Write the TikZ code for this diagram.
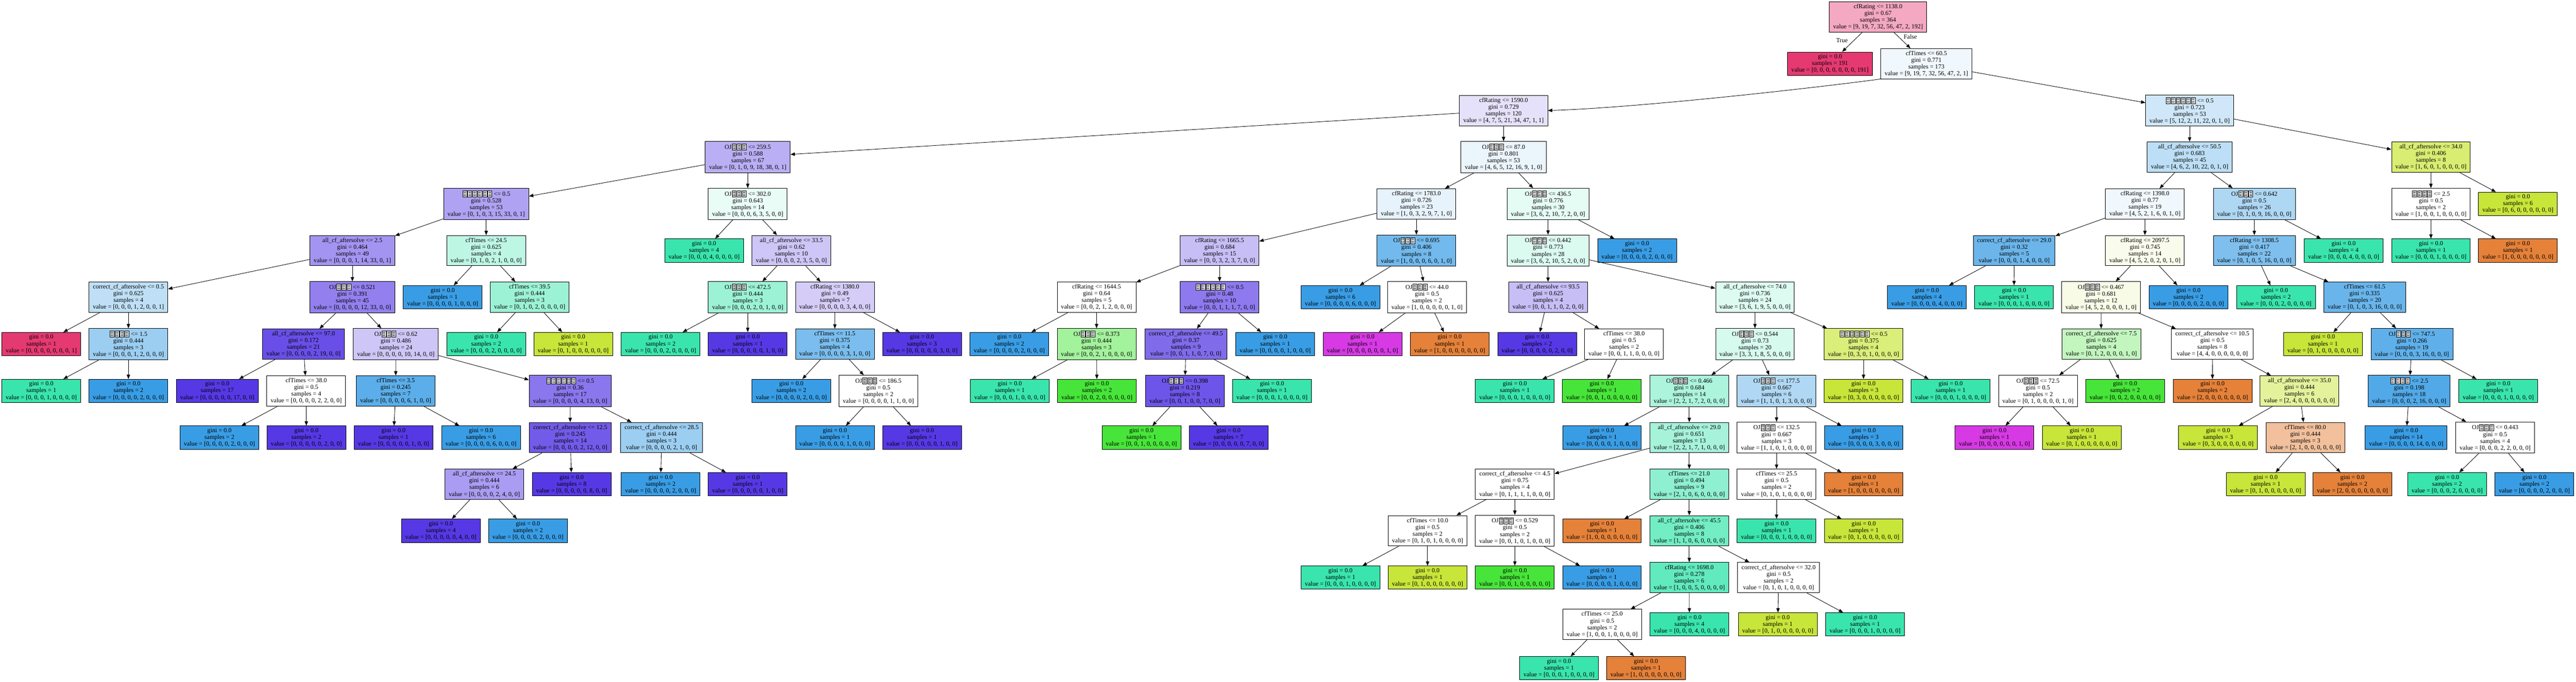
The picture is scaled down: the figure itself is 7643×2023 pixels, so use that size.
\documentclass[tikz,border=0pt]{standalone}
\usepackage{fontspec}
\setmainfont{Liberation Serif}
\usetikzlibrary{arrows.meta}

\definecolor{cls0}{HTML}{E58139}
\definecolor{cls1}{HTML}{C8E539}
\definecolor{cls2}{HTML}{47E539}
\definecolor{cls3}{HTML}{39E5AC}
\definecolor{cls4}{HTML}{399DE5}
\definecolor{cls5}{HTML}{5639E5}
\definecolor{cls6}{HTML}{D739E5}
\definecolor{cls7}{HTML}{E53972}

\newcommand{\tofu}{\kern1bp\tikz[x=1bp,y=1bp,baseline=3bp]{\draw[line width=0.9bp,fill=white] (0,0) rectangle (12,18); \fill[black!55] (2.5,10) rectangle (5.5,16) (6.5,10) rectangle (9.5,16) (2.5,2) rectangle (5.5,8) (6.5,2) rectangle (9.5,8);}\kern1bp}

\begin{document}
\begin{tikzpicture}[x=1bp, y=-1bp,
		tnode/.style={draw=black, line width=1.3bp, rectangle, align=center, inner xsep=11.5bp, inner ysep=7bp, font=\fontsize{18.5bp}{20bp}\selectfont},
		arr/.style={-{Triangle[length=13bp,width=10bp]}, line width=1.3bp},
		lbl/.style={inner sep=0pt, font=\fontsize{18.5bp}{20bp}\selectfont}]
				\path[use as bounding box, fill=white] (0,0) rectangle (7643,2023);
				
				\node[tnode, fill=cls7!44!white] (n0) at (5572,50.5) {cfRating <= 1138.0\\gini = 0.67\\samples = 364\\value = [9, 19, 7, 32, 56, 47, 2, 192]};
				\node[tnode, fill=cls7] (n1) at (5429.5,189) {gini = 0.0\\samples = 191\\value = [0, 0, 0, 0, 0, 0, 0, 191]};
				\node[tnode, fill=cls4!7!white] (n2) at (5715.5,189) {cfTimes <= 60.5\\gini = 0.771\\samples = 173\\value = [9, 19, 7, 32, 56, 47, 2, 1]};
				\node[lbl] (ltrue) at (5465,120) {True};
				\node[lbl] (lfalse) at (5668,109) {False};
				
				\node[tnode, fill=cls5!15!white] (n3) at (4461,328) {cfRating <= 1590.0\\gini = 0.729\\samples = 120\\value = [4, 7, 5, 21, 34, 47, 1, 1]};
				\node[tnode, fill=cls5!41!white] (n4) at (2218.5,466) {OJ\tofu\tofu\tofu{} <= 259.5\\gini = 0.588\\samples = 67\\value = [0, 1, 0, 9, 18, 38, 0, 1]};
				\node[tnode, fill=cls5!47!white] (n5) at (1442.5,605) {\tofu\tofu\tofu\tofu\tofu\tofu{} <= 0.5\\gini = 0.528\\samples = 53\\value = [0, 1, 0, 3, 15, 33, 0, 1]};
				\node[tnode, fill=cls5!54!white] (n6) at (1045.5,743.5) {all\_cf\_aftersolve <= 2.5\\gini = 0.464\\samples = 49\\value = [0, 0, 0, 1, 14, 33, 0, 1]};
				\node[tnode, fill=cls4!33!white] (n7) at (381,882) {correct\_cf\_aftersolve <= 0.5\\gini = 0.625\\samples = 4\\value = [0, 0, 0, 1, 2, 0, 0, 1]};
				\node[tnode, fill=cls7] (n8) at (122.5,1021) {gini = 0.0\\samples = 1\\value = [0, 0, 0, 0, 0, 0, 0, 1]};
				\node[tnode, fill=cls4!50!white] (n9) at (381,1021) {\tofu\tofu\tofu\tofu{} <= 1.5\\gini = 0.444\\samples = 3\\value = [0, 0, 0, 1, 2, 0, 0, 0]};
				\node[tnode, fill=cls3] (n10) at (122.5,1160) {gini = 0.0\\samples = 1\\value = [0, 0, 0, 1, 0, 0, 0, 0]};
				\node[tnode, fill=cls4] (n11) at (381,1160) {gini = 0.0\\samples = 2\\value = [0, 0, 0, 0, 2, 0, 0, 0]};
				\node[tnode, fill=cls5!64!white] (n12) at (1045.5,882) {OJ\tofu\tofu\tofu{} <= 0.521\\gini = 0.391\\samples = 45\\value = [0, 0, 0, 0, 12, 33, 0, 0]};
				\node[tnode, fill=cls5!89!white] (n13) at (900.5,1021) {all\_cf\_aftersolve <= 97.0\\gini = 0.172\\samples = 21\\value = [0, 0, 0, 0, 2, 19, 0, 0]};
				\node[tnode, fill=cls5] (n14) at (644.5,1160) {gini = 0.0\\samples = 17\\value = [0, 0, 0, 0, 0, 17, 0, 0]};
				\node[tnode, fill=white] (n15) at (908.5,1160) {cfTimes <= 38.0\\gini = 0.5\\samples = 4\\value = [0, 0, 0, 0, 2, 2, 0, 0]};
				\node[tnode, fill=cls4] (n16) at (651,1298.5) {gini = 0.0\\samples = 2\\value = [0, 0, 0, 0, 2, 0, 0, 0]};
				\node[tnode, fill=cls5] (n17) at (909,1298.5) {gini = 0.0\\samples = 2\\value = [0, 0, 0, 0, 0, 2, 0, 0]};
				\node[tnode, fill=cls5!29!white] (n18) at (1174.5,1021) {OJ\tofu\tofu\tofu{} <= 0.62\\gini = 0.486\\samples = 24\\value = [0, 0, 0, 0, 10, 14, 0, 0]};
				\node[tnode, fill=cls4!83!white] (n19) at (1174,1160) {cfTimes <= 3.5\\gini = 0.245\\samples = 7\\value = [0, 0, 0, 0, 6, 1, 0, 0]};
				\node[tnode, fill=cls5] (n20) at (1167.5,1298.5) {gini = 0.0\\samples = 1\\value = [0, 0, 0, 0, 0, 1, 0, 0]};
				\node[tnode, fill=cls4] (n21) at (1427,1298.5) {gini = 0.0\\samples = 6\\value = [0, 0, 0, 0, 6, 0, 0, 0]};
				\node[tnode, fill=cls5!69!white] (n22) at (1691.5,1160) {\tofu\tofu\tofu\tofu\tofu\tofu{} <= 0.5\\gini = 0.36\\samples = 17\\value = [0, 0, 0, 0, 4, 13, 0, 0]};
				\node[tnode, fill=cls5!83!white] (n23) at (1692,1298.5) {correct\_cf\_aftersolve <= 12.5\\gini = 0.245\\samples = 14\\value = [0, 0, 0, 0, 2, 12, 0, 0]};
				\node[tnode, fill=cls5!50!white] (n24) at (1437,1437) {all\_cf\_aftersolve <= 24.5\\gini = 0.444\\samples = 6\\value = [0, 0, 0, 0, 2, 4, 0, 0]};
				\node[tnode, fill=cls5] (n25) at (1308,1575) {gini = 0.0\\samples = 4\\value = [0, 0, 0, 0, 0, 4, 0, 0]};
				\node[tnode, fill=cls4] (n26) at (1566.5,1575) {gini = 0.0\\samples = 2\\value = [0, 0, 0, 0, 2, 0, 0, 0]};
				\node[tnode, fill=cls5] (n27) at (1696,1437) {gini = 0.0\\samples = 8\\value = [0, 0, 0, 0, 0, 8, 0, 0]};
				\node[tnode, fill=cls4!50!white] (n28) at (1963,1298.5) {correct\_cf\_aftersolve <= 28.5\\gini = 0.444\\samples = 3\\value = [0, 0, 0, 0, 2, 1, 0, 0]};
				\node[tnode, fill=cls4] (n29) at (1960,1437) {gini = 0.0\\samples = 2\\value = [0, 0, 0, 0, 2, 0, 0, 0]};
				\node[tnode, fill=cls5] (n30) at (2218.5,1437) {gini = 0.0\\samples = 1\\value = [0, 0, 0, 0, 0, 1, 0, 0]};
				\node[tnode, fill=cls3!33!white] (n31) at (1442.5,743.5) {cfTimes <= 24.5\\gini = 0.625\\samples = 4\\value = [0, 1, 0, 2, 1, 0, 0, 0]};
				\node[tnode, fill=cls4] (n32) at (1313.5,882) {gini = 0.0\\samples = 1\\value = [0, 0, 0, 0, 1, 0, 0, 0]};
				\node[tnode, fill=cls3!50!white] (n33) at (1571.5,882) {cfTimes <= 39.5\\gini = 0.444\\samples = 3\\value = [0, 1, 0, 2, 0, 0, 0, 0]};
				\node[tnode, fill=cls3] (n34) at (1442.5,1021) {gini = 0.0\\samples = 2\\value = [0, 0, 0, 2, 0, 0, 0, 0]};
				\node[tnode, fill=cls1] (n35) at (1700.5,1021) {gini = 0.0\\samples = 1\\value = [0, 1, 0, 0, 0, 0, 0, 0]};
				\node[tnode, fill=cls3!11!white] (n36) at (2218.5,605) {OJ\tofu\tofu\tofu{} <= 302.0\\gini = 0.643\\samples = 14\\value = [0, 0, 0, 6, 3, 5, 0, 0]};
				\node[tnode, fill=cls3] (n37) at (2089,743.5) {gini = 0.0\\samples = 4\\value = [0, 0, 0, 4, 0, 0, 0, 0]};
				\node[tnode, fill=cls5!29!white] (n38) at (2348,743.5) {all\_cf\_aftersolve <= 33.5\\gini = 0.62\\samples = 10\\value = [0, 0, 0, 2, 3, 5, 0, 0]};
				\node[tnode, fill=cls3!50!white] (n39) at (2218.5,882) {OJ\tofu\tofu\tofu{} <= 472.5\\gini = 0.444\\samples = 3\\value = [0, 0, 0, 2, 0, 1, 0, 0]};
				\node[tnode, fill=cls3] (n40) at (1960,1021) {gini = 0.0\\samples = 2\\value = [0, 0, 0, 2, 0, 0, 0, 0]};
				\node[tnode, fill=cls5] (n41) at (2218.5,1021) {gini = 0.0\\samples = 1\\value = [0, 0, 0, 0, 0, 1, 0, 0]};
				\node[tnode, fill=cls5!25!white] (n42) at (2477,882) {cfRating <= 1380.0\\gini = 0.49\\samples = 7\\value = [0, 0, 0, 0, 3, 4, 0, 0]};
				\node[tnode, fill=cls4!67!white] (n43) at (2477,1021) {cfTimes <= 11.5\\gini = 0.375\\samples = 4\\value = [0, 0, 0, 0, 3, 1, 0, 0]};
				\node[tnode, fill=cls4] (n44) at (2348,1160) {gini = 0.0\\samples = 2\\value = [0, 0, 0, 0, 2, 0, 0, 0]};
				\node[tnode, fill=white] (n45) at (2606,1160) {OJ\tofu\tofu\tofu{} <= 186.5\\gini = 0.5\\samples = 2\\value = [0, 0, 0, 0, 1, 1, 0, 0]};
				\node[tnode, fill=cls4] (n46) at (2477,1298.5) {gini = 0.0\\samples = 1\\value = [0, 0, 0, 0, 1, 0, 0, 0]};
				\node[tnode, fill=cls5] (n47) at (2735.5,1298.5) {gini = 0.0\\samples = 1\\value = [0, 0, 0, 0, 0, 1, 0, 0]};
				\node[tnode, fill=cls5] (n48) at (2735.5,1021) {gini = 0.0\\samples = 3\\value = [0, 0, 0, 0, 0, 3, 0, 0]};
				
				\node[tnode, fill=cls4!10!white] (n49) at (4461,466) {OJ\tofu\tofu\tofu{} <= 87.0\\gini = 0.801\\samples = 53\\value = [4, 6, 5, 12, 16, 9, 1, 0]};
				\node[tnode, fill=cls4!12!white] (n50) at (4202.5,605) {cfRating <= 1783.0\\gini = 0.726\\samples = 23\\value = [1, 0, 3, 2, 9, 7, 1, 0]};
				\node[tnode, fill=cls5!33!white] (n51) at (3618.5,743.5) {cfRating <= 1665.5\\gini = 0.684\\samples = 15\\value = [0, 0, 3, 2, 3, 7, 0, 0]};
				\node[tnode, fill=white] (n52) at (3253.5,882) {cfRating <= 1644.5\\gini = 0.64\\samples = 5\\value = [0, 0, 2, 1, 2, 0, 0, 0]};
				\node[tnode, fill=cls4] (n53) at (2994.5,1021) {gini = 0.0\\samples = 2\\value = [0, 0, 0, 0, 2, 0, 0, 0]};
				\node[tnode, fill=cls2!50!white] (n54) at (3253.5,1021) {OJ\tofu\tofu\tofu{} <= 0.373\\gini = 0.444\\samples = 3\\value = [0, 0, 2, 1, 0, 0, 0, 0]};
				\node[tnode, fill=cls3] (n55) at (2996,1160) {gini = 0.0\\samples = 1\\value = [0, 0, 0, 1, 0, 0, 0, 0]};
				\node[tnode, fill=cls2] (n56) at (3254.5,1160) {gini = 0.0\\samples = 2\\value = [0, 0, 2, 0, 0, 0, 0, 0]};
				\node[tnode, fill=cls5!67!white] (n57) at (3618.5,882) {\tofu\tofu\tofu\tofu\tofu\tofu{} <= 0.5\\gini = 0.48\\samples = 10\\value = [0, 0, 1, 1, 1, 7, 0, 0]};
				\node[tnode, fill=cls5!75!white] (n58) at (3518.5,1021) {correct\_cf\_aftersolve <= 49.5\\gini = 0.37\\samples = 9\\value = [0, 0, 1, 1, 0, 7, 0, 0]};
				\node[tnode, fill=cls5!86!white] (n59) at (3515.5,1160) {OJ\tofu\tofu\tofu{} <= 0.398\\gini = 0.219\\samples = 8\\value = [0, 0, 1, 0, 0, 7, 0, 0]};
				\node[tnode, fill=cls2] (n60) at (3386.5,1298.5) {gini = 0.0\\samples = 1\\value = [0, 0, 1, 0, 0, 0, 0, 0]};
				\node[tnode, fill=cls5] (n61) at (3645,1298.5) {gini = 0.0\\samples = 7\\value = [0, 0, 0, 0, 0, 7, 0, 0]};
				\node[tnode, fill=cls3] (n62) at (3774,1160) {gini = 0.0\\samples = 1\\value = [0, 0, 0, 1, 0, 0, 0, 0]};
				\node[tnode, fill=cls4] (n63) at (3783.5,1021) {gini = 0.0\\samples = 1\\value = [0, 0, 0, 0, 1, 0, 0, 0]};
				\node[tnode, fill=cls4!71!white] (n64) at (4202.5,743.5) {OJ\tofu\tofu\tofu{} <= 0.695\\gini = 0.406\\samples = 8\\value = [1, 0, 0, 0, 6, 0, 1, 0]};
				\node[tnode, fill=cls4] (n65) at (3977,882) {gini = 0.0\\samples = 6\\value = [0, 0, 0, 0, 6, 0, 0, 0]};
				\node[tnode, fill=white] (n66) at (4234,882) {OJ\tofu\tofu\tofu{} <= 44.0\\gini = 0.5\\samples = 2\\value = [1, 0, 0, 0, 0, 0, 1, 0]};
				\node[tnode, fill=cls6] (n67) at (4042.5,1021) {gini = 0.0\\samples = 1\\value = [0, 0, 0, 0, 0, 0, 1, 0]};
				\node[tnode, fill=cls0] (n68) at (4301,1021) {gini = 0.0\\samples = 1\\value = [1, 0, 0, 0, 0, 0, 0, 0]};
				\node[tnode, fill=cls3!13!white] (n69) at (4593,605) {OJ\tofu\tofu\tofu{} <= 436.5\\gini = 0.776\\samples = 30\\value = [3, 6, 2, 10, 7, 2, 0, 0]};
				\node[tnode, fill=cls3!18!white] (n70) at (4593,743.5) {OJ\tofu\tofu\tofu{} <= 0.442\\gini = 0.773\\samples = 28\\value = [3, 6, 2, 10, 5, 2, 0, 0]};
				\node[tnode, fill=cls5!33!white] (n71) at (4593,882) {all\_cf\_aftersolve <= 93.5\\gini = 0.625\\samples = 4\\value = [0, 0, 1, 1, 0, 2, 0, 0]};
				\node[tnode, fill=cls5] (n72) at (4560.5,1021) {gini = 0.0\\samples = 2\\value = [0, 0, 0, 0, 0, 2, 0, 0]};
				\node[tnode, fill=white] (n73) at (4818.5,1021) {cfTimes <= 38.0\\gini = 0.5\\samples = 2\\value = [0, 0, 1, 1, 0, 0, 0, 0]};
				\node[tnode, fill=cls3] (n74) at (4494.5,1160) {gini = 0.0\\samples = 1\\value = [0, 0, 0, 1, 0, 0, 0, 0]};
				\node[tnode, fill=cls2] (n75) at (4752.5,1160) {gini = 0.0\\samples = 1\\value = [0, 0, 1, 0, 0, 0, 0, 0]};
				\node[tnode, fill=cls3!17!white] (n76) at (5207,882) {all\_cf\_aftersolve <= 74.0\\gini = 0.736\\samples = 24\\value = [3, 6, 1, 9, 5, 0, 0, 0]};
				\node[tnode, fill=cls3!20!white] (n77) at (5207,1021) {OJ\tofu\tofu\tofu{} <= 0.544\\gini = 0.73\\samples = 20\\value = [3, 3, 1, 8, 5, 0, 0, 0]};
				\node[tnode, fill=cls3!42!white] (n78) at (5012,1160) {OJ\tofu\tofu\tofu{} <= 0.466\\gini = 0.684\\samples = 14\\value = [2, 2, 1, 7, 2, 0, 0, 0]};
				\node[tnode, fill=cls4] (n79) at (4753,1298.5) {gini = 0.0\\samples = 1\\value = [0, 0, 0, 0, 1, 0, 0, 0]};
				\node[tnode, fill=cls3!45!white] (n80) at (5012,1298.5) {all\_cf\_aftersolve <= 29.0\\gini = 0.651\\samples = 13\\value = [2, 2, 1, 7, 1, 0, 0, 0]};
				\node[tnode, fill=white] (n81) at (4494.5,1437) {correct\_cf\_aftersolve <= 4.5\\gini = 0.75\\samples = 4\\value = [0, 1, 1, 1, 1, 0, 0, 0]};
				\node[tnode, fill=white] (n82) at (4235.5,1575) {cfTimes <= 10.0\\gini = 0.5\\samples = 2\\value = [0, 1, 0, 1, 0, 0, 0, 0]};
				\node[tnode, fill=cls3] (n83) at (3977,1714) {gini = 0.0\\samples = 1\\value = [0, 0, 0, 1, 0, 0, 0, 0]};
				\node[tnode, fill=cls1] (n84) at (4235.5,1714) {gini = 0.0\\samples = 1\\value = [0, 1, 0, 0, 0, 0, 0, 0]};
				\node[tnode, fill=white] (n85) at (4494.5,1575) {OJ\tofu\tofu\tofu{} <= 0.529\\gini = 0.5\\samples = 2\\value = [0, 0, 1, 0, 1, 0, 0, 0]};
				\node[tnode, fill=cls2] (n86) at (4494.5,1714) {gini = 0.0\\samples = 1\\value = [0, 0, 1, 0, 0, 0, 0, 0]};
				\node[tnode, fill=cls4] (n87) at (4753,1714) {gini = 0.0\\samples = 1\\value = [0, 0, 0, 0, 1, 0, 0, 0]};
				\node[tnode, fill=cls3!57!white] (n88) at (5012,1437) {cfTimes <= 21.0\\gini = 0.494\\samples = 9\\value = [2, 1, 0, 6, 0, 0, 0, 0]};
				\node[tnode, fill=cls0] (n89) at (4753,1575) {gini = 0.0\\samples = 1\\value = [1, 0, 0, 0, 0, 0, 0, 0]};
				\node[tnode, fill=cls3!71!white] (n90) at (5012,1575) {all\_cf\_aftersolve <= 45.5\\gini = 0.406\\samples = 8\\value = [1, 1, 0, 6, 0, 0, 0, 0]};
				\node[tnode, fill=cls3!80!white] (n91) at (5012,1714) {cfRating <= 1698.0\\gini = 0.278\\samples = 6\\value = [1, 0, 0, 5, 0, 0, 0, 0]};
				\node[tnode, fill=white] (n92) at (4753.5,1853) {cfTimes <= 25.0\\gini = 0.5\\samples = 2\\value = [1, 0, 0, 1, 0, 0, 0, 0]};
				\node[tnode, fill=cls3] (n93) at (4625.5,1983) {gini = 0.0\\samples = 1\\value = [0, 0, 0, 1, 0, 0, 0, 0]};
				\node[tnode, fill=cls0] (n94) at (4883.5,1983) {gini = 0.0\\samples = 1\\value = [1, 0, 0, 0, 0, 0, 0, 0]};
				\node[tnode, fill=cls3] (n95) at (5012.5,1853) {gini = 0.0\\samples = 4\\value = [0, 0, 0, 4, 0, 0, 0, 0]};
				\node[tnode, fill=white] (n96) at (5277,1714) {correct\_cf\_aftersolve <= 32.0\\gini = 0.5\\samples = 2\\value = [0, 1, 0, 1, 0, 0, 0, 0]};
				\node[tnode, fill=cls1] (n97) at (5274.5,1853) {gini = 0.0\\samples = 1\\value = [0, 1, 0, 0, 0, 0, 0, 0]};
				\node[tnode, fill=cls3] (n98) at (5533.5,1853) {gini = 0.0\\samples = 1\\value = [0, 0, 0, 1, 0, 0, 0, 0]};
				\node[tnode, fill=cls4!40!white] (n99) at (5271,1160) {OJ\tofu\tofu\tofu{} <= 177.5\\gini = 0.667\\samples = 6\\value = [1, 1, 0, 1, 3, 0, 0, 0]};
				\node[tnode, fill=white] (n100) at (5271,1298.5) {OJ\tofu\tofu\tofu{} <= 132.5\\gini = 0.667\\samples = 3\\value = [1, 1, 0, 1, 0, 0, 0, 0]};
				\node[tnode, fill=white] (n101) at (5271,1437) {cfTimes <= 25.5\\gini = 0.5\\samples = 2\\value = [0, 1, 0, 1, 0, 0, 0, 0]};
				\node[tnode, fill=cls3] (n102) at (5271,1575) {gini = 0.0\\samples = 1\\value = [0, 0, 0, 1, 0, 0, 0, 0]};
				\node[tnode, fill=cls1] (n103) at (5529.5,1575) {gini = 0.0\\samples = 1\\value = [0, 1, 0, 0, 0, 0, 0, 0]};
				\node[tnode, fill=cls0] (n104) at (5529.5,1437) {gini = 0.0\\samples = 1\\value = [1, 0, 0, 0, 0, 0, 0, 0]};
				\node[tnode, fill=cls4] (n105) at (5529.5,1298.5) {gini = 0.0\\samples = 3\\value = [0, 0, 0, 0, 3, 0, 0, 0]};
				\node[tnode, fill=cls1!67!white] (n106) at (5529,1021) {\tofu\tofu\tofu\tofu\tofu\tofu{} <= 0.5\\gini = 0.375\\samples = 4\\value = [0, 3, 0, 1, 0, 0, 0, 0]};
				\node[tnode, fill=cls1] (n107) at (5529,1160) {gini = 0.0\\samples = 3\\value = [0, 3, 0, 0, 0, 0, 0, 0]};
				\node[tnode, fill=cls3] (n108) at (5787.5,1160) {gini = 0.0\\samples = 1\\value = [0, 0, 0, 1, 0, 0, 0, 0]};
				\node[tnode, fill=cls4] (n109) at (4857,743.5) {gini = 0.0\\samples = 2\\value = [0, 0, 0, 0, 2, 0, 0, 0]};
				
				\node[tnode, fill=cls4!24!white] (n110) at (6496.5,328) {\tofu\tofu\tofu\tofu\tofu\tofu{} <= 0.5\\gini = 0.723\\samples = 53\\value = [5, 12, 2, 11, 22, 0, 1, 0]};
				\node[tnode, fill=cls4!34!white] (n111) at (6496.5,466) {all\_cf\_aftersolve <= 50.5\\gini = 0.683\\samples = 45\\value = [4, 6, 2, 10, 22, 0, 1, 0]};
				\node[tnode, fill=cls4!7!white] (n112) at (6364,605) {cfRating <= 1398.0\\gini = 0.77\\samples = 19\\value = [4, 5, 2, 1, 6, 0, 1, 0]};
				\node[tnode, fill=cls4!75!white] (n113) at (5976,743.5) {correct\_cf\_aftersolve <= 29.0\\gini = 0.32\\samples = 5\\value = [0, 0, 0, 1, 4, 0, 0, 0]};
				\node[tnode, fill=cls4] (n114) at (5717,882) {gini = 0.0\\samples = 4\\value = [0, 0, 0, 0, 4, 0, 0, 0]};
				\node[tnode, fill=cls3] (n115) at (5975.5,882) {gini = 0.0\\samples = 1\\value = [0, 0, 0, 1, 0, 0, 0, 0]};
				\node[tnode, fill=cls1!10!white] (n116) at (6364,743.5) {cfRating <= 2097.5\\gini = 0.745\\samples = 14\\value = [4, 5, 2, 0, 2, 0, 1, 0]};
				\node[tnode, fill=cls1!12!white] (n117) at (6233.5,882) {OJ\tofu\tofu\tofu{} <= 0.467\\gini = 0.681\\samples = 12\\value = [4, 5, 2, 0, 0, 0, 1, 0]};
				\node[tnode, fill=cls2!33!white] (n118) at (6234.5,1021) {correct\_cf\_aftersolve <= 7.5\\gini = 0.625\\samples = 4\\value = [0, 1, 2, 0, 0, 0, 1, 0]};
				\node[tnode, fill=white] (n119) at (6046.5,1160) {OJ\tofu\tofu\tofu{} <= 72.5\\gini = 0.5\\samples = 2\\value = [0, 1, 0, 0, 0, 0, 1, 0]};
				\node[tnode, fill=cls6] (n120) at (5917.5,1298.5) {gini = 0.0\\samples = 1\\value = [0, 0, 0, 0, 0, 0, 1, 0]};
				\node[tnode, fill=cls1] (n121) at (6176.5,1298.5) {gini = 0.0\\samples = 1\\value = [0, 1, 0, 0, 0, 0, 0, 0]};
				\node[tnode, fill=cls2] (n122) at (6305,1160) {gini = 0.0\\samples = 2\\value = [0, 0, 2, 0, 0, 0, 0, 0]};
				\node[tnode, fill=white] (n123) at (6564,1021) {correct\_cf\_aftersolve <= 10.5\\gini = 0.5\\samples = 8\\value = [4, 4, 0, 0, 0, 0, 0, 0]};
				\node[tnode, fill=cls0] (n124) at (6564.5,1160) {gini = 0.0\\samples = 2\\value = [2, 0, 0, 0, 0, 0, 0, 0]};
				\node[tnode, fill=cls1!50!white] (n125) at (6822.5,1160) {all\_cf\_aftersolve <= 35.0\\gini = 0.444\\samples = 6\\value = [2, 4, 0, 0, 0, 0, 0, 0]};
				\node[tnode, fill=cls1] (n126) at (6581,1298.5) {gini = 0.0\\samples = 3\\value = [0, 3, 0, 0, 0, 0, 0, 0]};
				\node[tnode, fill=cls0!50!white] (n127) at (6840,1298.5) {cfTimes <= 80.0\\gini = 0.444\\samples = 3\\value = [2, 1, 0, 0, 0, 0, 0, 0]};
				\node[tnode, fill=cls1] (n128) at (6722,1437) {gini = 0.0\\samples = 1\\value = [0, 1, 0, 0, 0, 0, 0, 0]};
				\node[tnode, fill=cls0] (n129) at (6979.5,1437) {gini = 0.0\\samples = 2\\value = [2, 0, 0, 0, 0, 0, 0, 0]};
				\node[tnode, fill=cls4] (n130) at (6493,882) {gini = 0.0\\samples = 2\\value = [0, 0, 0, 0, 2, 0, 0, 0]};
				\node[tnode, fill=cls4!41!white] (n131) at (6688.5,605) {OJ\tofu\tofu\tofu{} <= 0.642\\gini = 0.5\\samples = 26\\value = [0, 1, 0, 9, 16, 0, 0, 0]};
				\node[tnode, fill=cls4!65!white] (n132) at (6688.5,743.5) {cfRating <= 1308.5\\gini = 0.417\\samples = 22\\value = [0, 1, 0, 5, 16, 0, 0, 0]};
				\node[tnode, fill=cls3] (n133) at (6752.5,882) {gini = 0.0\\samples = 2\\value = [0, 0, 0, 2, 0, 0, 0, 0]};
				\node[tnode, fill=cls4!76!white] (n134) at (7016,882) {cfTimes <= 61.5\\gini = 0.335\\samples = 20\\value = [0, 1, 0, 3, 16, 0, 0, 0]};
				\node[tnode, fill=cls1] (n135) at (6892,1021) {gini = 0.0\\samples = 1\\value = [0, 1, 0, 0, 0, 0, 0, 0]};
				\node[tnode, fill=cls4!81!white] (n136) at (7156,1021) {OJ\tofu\tofu\tofu{} <= 747.5\\gini = 0.266\\samples = 19\\value = [0, 0, 0, 3, 16, 0, 0, 0]};
				\node[tnode, fill=cls4!88!white] (n137) at (7148,1160) {\tofu\tofu\tofu\tofu{} <= 2.5\\gini = 0.198\\samples = 18\\value = [0, 0, 0, 2, 16, 0, 0, 0]};
				\node[tnode, fill=cls4] (n138) at (7139,1298.5) {gini = 0.0\\samples = 14\\value = [0, 0, 0, 0, 14, 0, 0, 0]};
				\node[tnode, fill=white] (n139) at (7403,1298.5) {OJ\tofu\tofu\tofu{} <= 0.443\\gini = 0.5\\samples = 4\\value = [0, 0, 0, 2, 2, 0, 0, 0]};
				\node[tnode, fill=cls3] (n140) at (7260.5,1437) {gini = 0.0\\samples = 2\\value = [0, 0, 0, 2, 0, 0, 0, 0]};
				\node[tnode, fill=cls4] (n141) at (7519.5,1437) {gini = 0.0\\samples = 2\\value = [0, 0, 0, 0, 2, 0, 0, 0]};
				\node[tnode, fill=cls3] (n142) at (7412.5,1160) {gini = 0.0\\samples = 1\\value = [0, 0, 0, 1, 0, 0, 0, 0]};
				\node[tnode, fill=cls3] (n143) at (6953.5,743.5) {gini = 0.0\\samples = 4\\value = [0, 0, 0, 4, 0, 0, 0, 0]};
				\node[tnode, fill=cls1!71!white] (n144) at (7212.5,466) {all\_cf\_aftersolve <= 34.0\\gini = 0.406\\samples = 8\\value = [1, 6, 0, 1, 0, 0, 0, 0]};
				\node[tnode, fill=white] (n145) at (7212.5,605) {\tofu\tofu\tofu\tofu{} <= 2.5\\gini = 0.5\\samples = 2\\value = [1, 0, 0, 1, 0, 0, 0, 0]};
				\node[tnode, fill=cls3] (n146) at (7212.5,743.5) {gini = 0.0\\samples = 1\\value = [0, 0, 0, 1, 0, 0, 0, 0]};
				\node[tnode, fill=cls0] (n147) at (7470.5,743.5) {gini = 0.0\\samples = 1\\value = [1, 0, 0, 0, 0, 0, 0, 0]};
				\node[tnode, fill=cls1] (n148) at (7470.5,605) {gini = 0.0\\samples = 6\\value = [0, 6, 0, 0, 0, 0, 0, 0]};
				
				\draw[arr] (n0) -- (n1);
				\draw[arr] (n0) -- (n2);
				\draw[arr] (n2.south west) .. controls (5350,265) and (4850,320) .. (n3.east);
				\draw[arr] (n3) -- (n4);
				\draw[arr] (n4) -- (n5);
				\draw[arr] (n5) -- (n6);
				\draw[arr] (n6) -- (n7);
				\draw[arr] (n7) -- (n8);
				\draw[arr] (n7) -- (n9);
				\draw[arr] (n9) -- (n10);
				\draw[arr] (n9) -- (n11);
				\draw[arr] (n6) -- (n12);
				\draw[arr] (n12) -- (n13);
				\draw[arr] (n13) -- (n14);
				\draw[arr] (n13) -- (n15);
				\draw[arr] (n15) -- (n16);
				\draw[arr] (n15) -- (n17);
				\draw[arr] (n12) -- (n18);
				\draw[arr] (n18) -- (n19);
				\draw[arr] (n19) -- (n20);
				\draw[arr] (n19) -- (n21);
				\draw[arr] (n18) -- (n22);
				\draw[arr] (n22) -- (n23);
				\draw[arr] (n23) -- (n24);
				\draw[arr] (n24) -- (n25);
				\draw[arr] (n24) -- (n26);
				\draw[arr] (n23) -- (n27);
				\draw[arr] (n22) -- (n28);
				\draw[arr] (n28) -- (n29);
				\draw[arr] (n28) -- (n30);
				\draw[arr] (n5) -- (n31);
				\draw[arr] (n31) -- (n32);
				\draw[arr] (n31) -- (n33);
				\draw[arr] (n33) -- (n34);
				\draw[arr] (n33) -- (n35);
				\draw[arr] (n4) -- (n36);
				\draw[arr] (n36) -- (n37);
				\draw[arr] (n36) -- (n38);
				\draw[arr] (n38) -- (n39);
				\draw[arr] (n39) -- (n40);
				\draw[arr] (n39) -- (n41);
				\draw[arr] (n38) -- (n42);
				\draw[arr] (n42) -- (n43);
				\draw[arr] (n43) -- (n44);
				\draw[arr] (n43) -- (n45);
				\draw[arr] (n45) -- (n46);
				\draw[arr] (n45) -- (n47);
				\draw[arr] (n42) -- (n48);
				\draw[arr] (n3) -- (n49);
				\draw[arr] (n49) -- (n50);
				\draw[arr] (n50) -- (n51);
				\draw[arr] (n51) -- (n52);
				\draw[arr] (n52) -- (n53);
				\draw[arr] (n52) -- (n54);
				\draw[arr] (n54) -- (n55);
				\draw[arr] (n54) -- (n56);
				\draw[arr] (n51) -- (n57);
				\draw[arr] (n57) -- (n58);
				\draw[arr] (n58) -- (n59);
				\draw[arr] (n59) -- (n60);
				\draw[arr] (n59) -- (n61);
				\draw[arr] (n58) -- (n62);
				\draw[arr] (n57) -- (n63);
				\draw[arr] (n50) -- (n64);
				\draw[arr] (n64) -- (n65);
				\draw[arr] (n64) -- (n66);
				\draw[arr] (n66) -- (n67);
				\draw[arr] (n66) -- (n68);
				\draw[arr] (n49) -- (n69);
				\draw[arr] (n69) -- (n70);
				\draw[arr] (n70) -- (n71);
				\draw[arr] (n71) -- (n72);
				\draw[arr] (n71) -- (n73);
				\draw[arr] (n73) -- (n74);
				\draw[arr] (n73) -- (n75);
				\draw[arr] (n70) -- (n76);
				\draw[arr] (n76) -- (n77);
				\draw[arr] (n77) -- (n78);
				\draw[arr] (n78) -- (n79);
				\draw[arr] (n78) -- (n80);
				\draw[arr] (n80) -- (n81);
				\draw[arr] (n81) -- (n82);
				\draw[arr] (n82) -- (n83);
				\draw[arr] (n82) -- (n84);
				\draw[arr] (n81) -- (n85);
				\draw[arr] (n85) -- (n86);
				\draw[arr] (n85) -- (n87);
				\draw[arr] (n80) -- (n88);
				\draw[arr] (n88) -- (n89);
				\draw[arr] (n88) -- (n90);
				\draw[arr] (n90) -- (n91);
				\draw[arr] (n91) -- (n92);
				\draw[arr] (n92) -- (n93);
				\draw[arr] (n92) -- (n94);
				\draw[arr] (n91) -- (n95);
				\draw[arr] (n90) -- (n96);
				\draw[arr] (n96) -- (n97);
				\draw[arr] (n96) -- (n98);
				\draw[arr] (n77) -- (n99);
				\draw[arr] (n99) -- (n100);
				\draw[arr] (n100) -- (n101);
				\draw[arr] (n101) -- (n102);
				\draw[arr] (n101) -- (n103);
				\draw[arr] (n100) -- (n104);
				\draw[arr] (n99) -- (n105);
				\draw[arr] (n76) -- (n106);
				\draw[arr] (n106) -- (n107);
				\draw[arr] (n106) -- (n108);
				\draw[arr] (n69) -- (n109);
				\draw[arr] (n2) -- (n110);
				\draw[arr] (n110) -- (n111);
				\draw[arr] (n111) -- (n112);
				\draw[arr] (n112) -- (n113);
				\draw[arr] (n113) -- (n114);
				\draw[arr] (n113) -- (n115);
				\draw[arr] (n112) -- (n116);
				\draw[arr] (n116) -- (n117);
				\draw[arr] (n117) -- (n118);
				\draw[arr] (n118) -- (n119);
				\draw[arr] (n119) -- (n120);
				\draw[arr] (n119) -- (n121);
				\draw[arr] (n118) -- (n122);
				\draw[arr] (n117) -- (n123);
				\draw[arr] (n123) -- (n124);
				\draw[arr] (n123) -- (n125);
				\draw[arr] (n125) -- (n126);
				\draw[arr] (n125) -- (n127);
				\draw[arr] (n127) -- (n128);
				\draw[arr] (n127) -- (n129);
				\draw[arr] (n116) -- (n130);
				\draw[arr] (n111) -- (n131);
				\draw[arr] (n131) -- (n132);
				\draw[arr] (n132) -- (n133);
				\draw[arr] (n132) -- (n134);
				\draw[arr] (n134) -- (n135);
				\draw[arr] (n134) -- (n136);
				\draw[arr] (n136) -- (n137);
				\draw[arr] (n137) -- (n138);
				\draw[arr] (n137) -- (n139);
				\draw[arr] (n139) -- (n140);
				\draw[arr] (n139) -- (n141);
				\draw[arr] (n136) -- (n142);
				\draw[arr] (n131) -- (n143);
				\draw[arr] (n110) -- (n144);
				\draw[arr] (n144) -- (n145);
				\draw[arr] (n145) -- (n146);
				\draw[arr] (n145) -- (n147);
				\draw[arr] (n144) -- (n148);
			\end{tikzpicture}
\end{document}
